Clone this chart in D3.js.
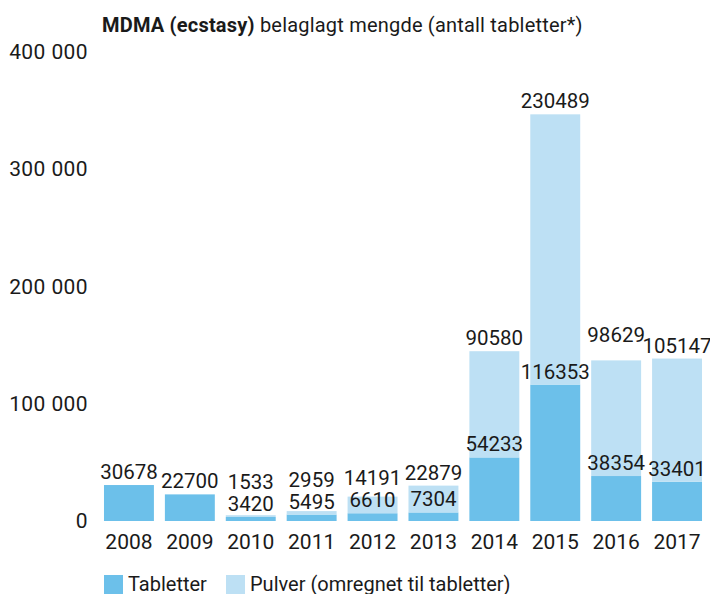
<!DOCTYPE html>
<html lang="no">
<head>
<meta charset="UTF-8">
<title>MDMA (ecstasy) belaglagt mengde</title>
<style>
  body { margin: 0; background: #fff; }
  svg { display: block; font-family: Roboto, "Noto Sans", sans-serif; }
</style>
</head>
<body>
<script src="https://cdn.jsdelivr.net/npm/d3@7"></script>
<script>
// data
var years = ['2008','2009','2010','2011','2012','2013','2014','2015','2016','2017']
var tabletter = [30678, 22700, 3420, 5495, 6610, 7304, 54233, 116353, 38354, 33401]
var pulver = [0, 0, 1533, 2959, 14191, 22879, 90580, 230489, 98629, 105147]
var yTicks = [0, 100000, 200000, 300000, 400000]
var seriesNames = ['Tabletter', 'Pulver (omregnet til tabletter)']
var colors = ['#6cc0ea', '#bde0f4']

var width = 710, height = 594
var svg = d3.select('body').append('svg').attr('width', width).attr('height', height)

var x = d3.scaleBand().domain(years).range([98.5, 707.5]).paddingInner(0.18).paddingOuter(0.09)
var y = d3.scaleLinear().domain([0, 400000]).range([521, 52])

var rows = years.map(function(yr, i){ return {year: yr, tab: tabletter[i], pul: pulver[i]} })
var stack = d3.stack().keys(['tab', 'pul'])(rows)

// title
var title = svg.append('text').attr('x', 102).attr('y', 31.5).attr('font-size', 20)
  .attr('letter-spacing', 0.2).attr('fill', '#1a1a1a')
title.append('tspan').attr('font-weight', 'bold').text('MDMA (ecstasy)')
title.append('tspan').text(' belaglagt mengde (antall tabletter*)')

// y axis (labels only)
var yAxis = d3.axisLeft(y).tickValues(yTicks).tickSize(0).tickPadding(0)
  .tickFormat(function(d){ return d3.format(',')(d).replace(/,/g, ' ') })
svg.append('g').attr('transform', 'translate(88,0)').call(yAxis)
  .call(function(g){ g.select('.domain').remove() })
  .selectAll('text').attr('font-size', 21).attr('letter-spacing', 0.4)
  .attr('fill', '#1a1a1a').attr('font-family', 'Roboto')

// x axis (labels only)
var xAxis = d3.axisBottom(x).tickSize(0).tickPadding(0)
svg.append('g').attr('transform', 'translate(0,534)').call(xAxis)
  .call(function(g){ g.select('.domain').remove() })
  .selectAll('text').attr('font-size', 21).attr('fill', '#1a1a1a').attr('font-family', 'Roboto')

// bars
svg.append('g').selectAll('g').data(stack).enter().append('g')
  .attr('fill', function(d, i){ return colors[i] })
  .selectAll('rect').data(function(d){ return d }).enter().append('rect')
  .attr('x', function(d){ return x(d.data.year) })
  .attr('width', x.bandwidth())
  .attr('y', function(d){ return y(d[1]) })
  .attr('height', function(d){ return y(d[0]) - y(d[1]) })

// value labels
var labels = svg.append('g').attr('font-size', 20.5).attr('fill', '#1a1a1a').attr('text-anchor', 'middle')
labels.selectAll('.tab').data(rows).enter().append('text')
  .attr('x', function(d){ return x(d.year) + x.bandwidth() / 2 })
  .attr('y', function(d){ return y(d.tab) - 6 })
  .text(function(d){ return d.tab })
var tops = labels.selectAll('.pul').data(rows.filter(function(d){ return d.pul > 0 })).enter().append('text')
  .attr('x', function(d){ return x(d.year) + x.bandwidth() / 2 })
  .attr('y', function(d){ return Math.min(y(d.tab + d.pul) - 6, y(d.tab) - 28) })
  .text(function(d){ return d.pul })

// lift a total label if it runs into the next one
var nodes = tops.nodes()
for (var i = nodes.length - 2; i >= 0; i--) {
  var a = nodes[i].getBBox(), b = nodes[i + 1].getBBox()
  if (a.x + a.width > b.x && Math.abs(a.y - b.y) < a.height) {
    d3.select(nodes[i]).attr('y', +nodes[i].getAttribute('y') - 12)
  }
}

// legend
var legend = svg.append('g').attr('transform', 'translate(104,575)')
var item = legend.selectAll('g').data(seriesNames).enter().append('g')
  .attr('transform', function(d, i){ return 'translate(' + (i * 122) + ',0)' })
item.append('rect').attr('width', 19).attr('height', 19).attr('fill', function(d, i){ return colors[i] })
item.append('text').attr('x', 24).attr('y', 16).attr('font-size', 20).attr('fill', '#1a1a1a').text(function(d){ return d })
</script>
</body>
</html>
